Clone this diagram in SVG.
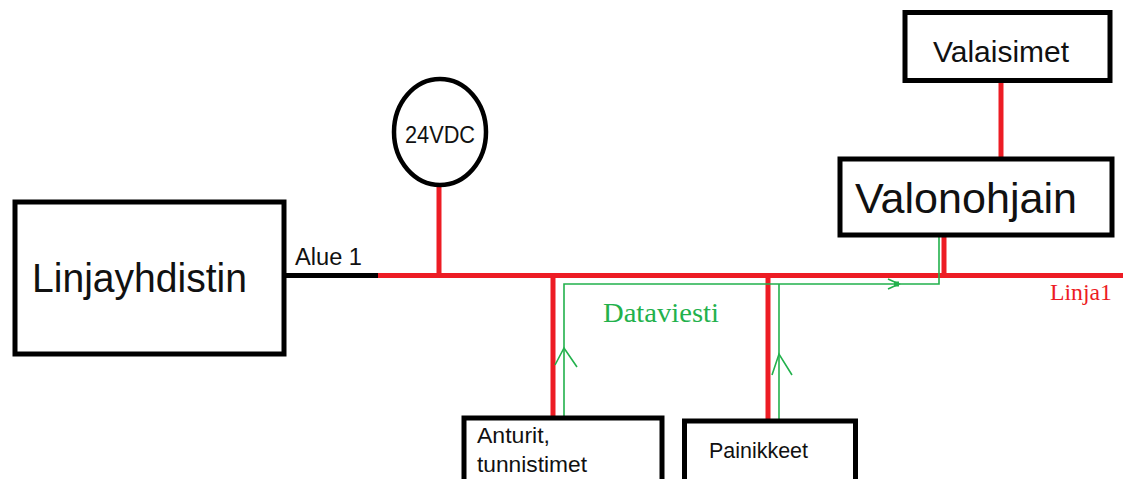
<svg xmlns="http://www.w3.org/2000/svg" width="1123" height="479" viewBox="0 0 1123 479">
<style>
.box{fill:#fff;stroke:#000;stroke-width:5}
.red{stroke:#ed1c24;stroke-width:5;fill:none}
.grn{stroke:#22b14c;stroke-width:1.6;fill:none}
.lbl{font-family:"Liberation Sans",Arial,sans-serif;fill:#111}
.ser{font-family:"Liberation Serif","Times New Roman",serif}
</style>
<rect width="1123" height="479" fill="#fff"/>
<g id="connectors">
<line x1="284" y1="275.5" x2="380" y2="275.5" stroke="#000" stroke-width="5"/>
<line class="red" x1="378" y1="275.5" x2="1123" y2="275.5"/>
<line class="red" x1="439" y1="186" x2="439" y2="276"/>
<line class="red" x1="553" y1="276" x2="553" y2="417"/>
<line class="red" x1="768" y1="276" x2="768" y2="419"/>
<line class="red" x1="944" y1="234" x2="944" y2="276"/>
<line class="red" x1="1001" y1="80" x2="1001" y2="159"/>
<polyline class="grn" points="564,417 564,284 939,284 939,234"/>
<line class="grn" x1="779" y1="284" x2="779" y2="419"/>
<polyline class="grn" points="555,365 564,348 577,367"/>
<polyline class="grn" points="772,375 779,354 792,375"/>
<polyline class="grn" points="888,279 899,284 888,289"/>
<rect x="894" y="281.5" width="5" height="5" fill="#22b14c"/>
<text class="ser" x="603" y="322" font-size="27" fill="#22b14c" textLength="116" lengthAdjust="spacingAndGlyphs">Dataviesti</text>
<text class="ser" x="1050" y="300" font-size="23" fill="#ed1c24" textLength="62" lengthAdjust="spacingAndGlyphs">Linja1</text>
<text class="lbl" x="295" y="265" font-size="23" textLength="67" lengthAdjust="spacingAndGlyphs">Alue 1</text>
</g>
<g id="linjayhdistin">
<rect class="box" x="15" y="202" width="269" height="152"/>
<text class="lbl" x="32" y="292" font-size="41" textLength="215" lengthAdjust="spacingAndGlyphs">Linjayhdistin</text>
</g>
<g id="power24vdc">
<ellipse cx="440" cy="132" rx="46" ry="53" fill="#fff" stroke="#000" stroke-width="4.5"/>
<text class="lbl" x="440" y="143" font-size="23" text-anchor="middle" textLength="70" lengthAdjust="spacingAndGlyphs">24VDC</text>
</g>
<g id="valaisimet">
<rect class="box" x="905" y="12.5" width="205" height="68"/>
<text class="lbl" x="933" y="62" font-size="30" textLength="136" lengthAdjust="spacingAndGlyphs">Valaisimet</text>
</g>
<g id="valonohjain">
<rect class="box" x="840" y="159" width="272" height="76"/>
<text class="lbl" x="855" y="213" font-size="42" textLength="222" lengthAdjust="spacingAndGlyphs">Valonohjain</text>
</g>
<g id="anturit">
<rect class="box" x="464" y="418" width="198" height="90"/>
<text class="lbl" x="477" y="443" font-size="22" textLength="73" lengthAdjust="spacingAndGlyphs">Anturit,</text>
<text class="lbl" x="477" y="472" font-size="22" textLength="110" lengthAdjust="spacingAndGlyphs">tunnistimet</text>
</g>
<g id="painikkeet">
<rect class="box" x="684.5" y="421" width="171" height="90"/>
<text class="lbl" x="709" y="458" font-size="22" textLength="99" lengthAdjust="spacingAndGlyphs">Painikkeet</text>
</g>
</svg>
